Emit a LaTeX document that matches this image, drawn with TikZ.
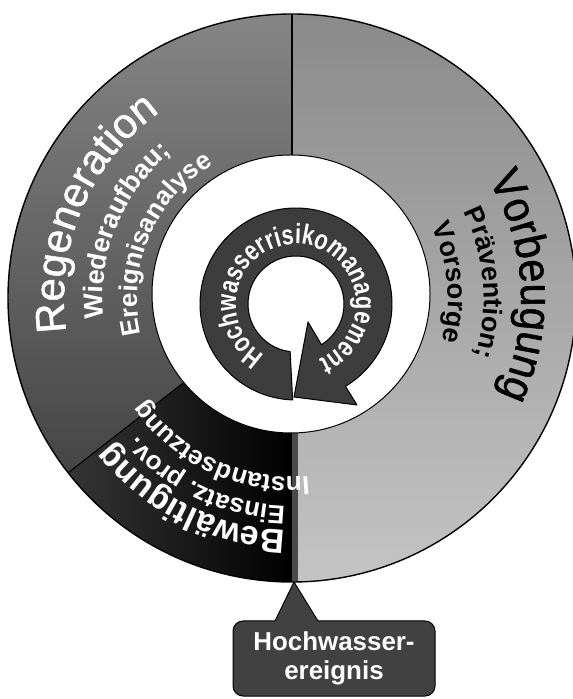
\documentclass[tikz,border=0pt]{standalone}
\usepackage{fontspec}
\setmainfont{Liberation Sans}
\newfontfamily\condsans[FakeStretch=0.78]{Liberation Sans}
\newfontfamily\titlesans[FakeBold=1.2]{Liberation Sans}
\newfontfamily\semicond[FakeStretch=0.92,FakeBold=1.2]{Liberation Sans}
\usetikzlibrary{decorations.text,calc}
\definecolor{vtop}{HTML}{8A8A8A}
\definecolor{vbot}{HTML}{C4C4C4}
\definecolor{rtop}{HTML}{858585}
\definecolor{rbot}{HTML}{454545}
\definecolor{bleft}{HTML}{353535}
\definecolor{bright}{HTML}{000000}
\definecolor{stripgray}{HTML}{4A4A4A}
\definecolor{bandgray}{HTML}{3D3D3D}
\definecolor{cgray}{HTML}{414141}
\newcommand\ftitle{\titlesans\fontsize{42}{44}\selectfont}
\newcommand\fvor{\semicond\fontsize{45}{47}\selectfont}
\newcommand\fsub{\bfseries\fontsize{27}{29}\selectfont}
\newcommand\fbew{\bfseries\fontsize{34}{36}\selectfont}
\newcommand\fin{\bfseries\fontsize{26}{28}\selectfont}
\newcommand\fhw{\condsans\bfseries\fontsize{28}{30}\selectfont}
% #1 centre, #2 radius, #3 centre angle, #4 half span, #5 font, #6 text, #7 colour
\newcommand\arctext[7]{%
  \path[decorate,decoration={text along path,text align=center,text color=#7,text={|#5|#6}}]
    ($(#1)+({#3+#4}:#2bp)$) arc[start angle={#3+#4},end angle={#3-#4},radius=#2bp];}
\tikzset{
  callbox/.style={draw,fill=cgray,rounded corners=10bp,minimum width=202bp,minimum height=75bp,
    text=white,font=\bfseries\fontsize{26}{29}\selectfont,align=center,inner sep=0pt,line width=1bp},
  ringline/.style={line width=1.1bp}
}
\begin{document}
\begin{tikzpicture}[x=1bp,y=1bp,line join=round]
\useasboundingbox (0,0) rectangle (573,699);
\fill[white] (0,0) rectangle (573,699);
\coordinate (O) at (292,401);
\coordinate (W) at (291,405);
\coordinate (A) at (296,395);
% segments
\shade[top color=vtop,bottom color=vbot] (O) -- ++(90:284bp) arc[start angle=90,end angle=-90,radius=284bp] -- cycle;
\shade[top color=rtop,bottom color=rbot] (O) -- ++(90:284bp) arc[start angle=90,end angle=218,radius=284bp] -- cycle;
\shade[left color=bleft,right color=bright] (O) -- ++(218:284bp) arc[start angle=218,end angle=270,radius=284bp] -- cycle;
\begin{scope}
  \clip (O) circle[radius=284bp];
  \fill[stripgray] (292,100) rectangle (298,300);
\end{scope}
\draw[ringline] (O) -- ++(90:284bp);
\draw[ringline] (O) -- ++(218:284bp);
\draw[line width=1.4bp] (O) circle[radius=284bp];
\filldraw[fill=white,line width=1bp] (W) circle[radius=139bp];
% circular arrow
\filldraw[fill=bandgray,line width=1bp] ($(A)+(268:96bp)$) arc[start angle=268,end angle=-59,radius=96bp]
  -- (357,294) -- (294,302) -- (308,377) -- ($(A)+(-58:48bp)$)
  arc[start angle=-58,end angle=263,radius=48bp] -- cycle;
\arctext{A}{60}{86}{170}{\fhw}{Hochwasserrisikomanagement}{white}
% ring texts
\arctext{O}{228}{157}{40}{\ftitle}{Regeneration}{white}
\arctext{O}{189}{158}{40}{\fsub}{Wiederaufbau;}{white}
\arctext{O}{155}{157}{45}{\fin}{Ereignisanalyse}{white}
\arctext{O}{229}{3}{40}{\fvor}{Vorbeugung}{black}
\arctext{O}{192}{4.5}{35}{\fsub}{Prävention;}{black}
\arctext{O}{156}{5.5}{35}{\fsub}{Vorsorge}{black}
\arctext{O}{232}{243.5}{35}{\fbew}{Bewältigung}{white}
\arctext{O}{208}{245}{35}{\fin}{Einsatz. prov.}{white}
\arctext{O}{179}{245}{40}{\fin}{Instandsetzung}{white}
% callout
\node[callbox] (ev) at (334,40.5) {Hochwasser-\\ereignis};
\coordinate (tip) at (294,117);
\fill[cgray] (275,77.2) -- (tip) -- (318,77.2) -- cycle;
\draw[line width=1bp] (275,78) -- (tip) -- (318,78);
\end{tikzpicture}
\end{document}
